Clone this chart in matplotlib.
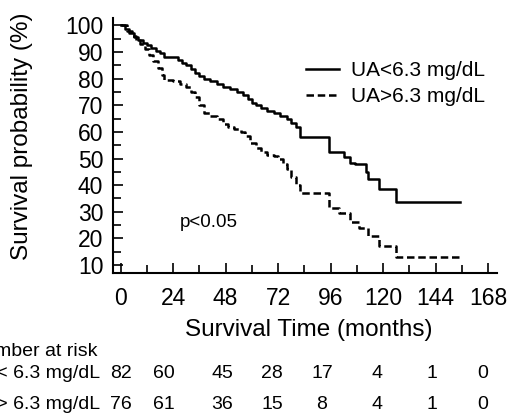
import matplotlib
matplotlib.use('Agg')
import matplotlib.pyplot as plt
import numpy as np

plt.rcParams['font.family'] = ['Liberation Sans', 'DejaVu Sans']

# Kaplan-Meier steps
t_low = [0, 2, 4, 6, 8, 10, 12, 14, 16, 18, 20, 26, 28, 30, 32, 34, 36, 38, 41, 44, 47, 50,
         53, 56, 58, 60, 62, 64, 67, 70, 73, 76, 78, 80, 82, 95, 102, 105, 107, 112, 113, 118, 126, 155]
s_low = [100, 98.5, 97, 95.5, 94.5, 93.5, 92.5, 91.5, 90.5, 89.5, 88, 87, 86, 85, 83.5, 82, 81, 80, 79, 78, 77, 76,
         75, 74, 72.5, 71, 70, 69, 68, 67, 66, 65, 63.5, 62, 58, 52.5, 50.5, 48.5, 48, 45, 42.5, 38.5, 33.5, 33.5]

t_high = [0, 3, 5, 7, 9, 11, 13, 15, 17, 19, 20, 24, 27, 30, 32, 34, 36, 38, 41, 44, 47, 49,
          52, 55, 57, 59, 62, 64, 67, 70, 72, 74, 76, 78, 80, 82, 95, 100, 105, 109, 113, 118, 126, 155]
s_high = [100, 98, 96, 94.5, 93, 91, 89, 86.5, 84, 81.5, 79.5, 79, 78, 77, 75, 73, 70, 67, 66, 65, 63, 62,
          61, 60, 58.5, 56, 54, 52.5, 51.5, 51, 50, 48, 46, 43, 40, 37, 31.5, 29.5, 26, 24, 21, 17, 13, 13]

labels = ['UA<6.3 mg/dL', 'UA>6.3 mg/dL']
xticks = [0, 24, 48, 72, 96, 120, 144, 168]

risk_rows = ['UA < 6.3 mg/dL', 'UA > 6.3 mg/dL']
risk_low = [82, 60, 45, 28, 17, 4, 1, 0]
risk_high = [76, 61, 36, 15, 8, 4, 1, 0]

W, H = 509, 415
fig = plt.figure(figsize=(W/100, H/100), dpi=100)
ax = fig.add_axes([113/W, 1-273/H, (497-113)/W, (273-18)/H])

ax.step(t_low, s_low, where='post', color='black', lw=1.8, label=labels[0])
ax.step(t_high, s_high, where='post', color='black', lw=1.8, linestyle=(0, (3, 1.5)), label=labels[1])

ax.set_xlim(-3.5, 172)
ax.set_ylim(7, 102.8)
ax.set_xticks(xticks)
ax.set_xticks(np.arange(0, 169, 12), minor=True)
ax.set_yticks(np.arange(10, 101, 10))
ax.set_yticks(np.arange(10, 101, 5), minor=True)
ax.tick_params(which='both', direction='in', labelsize=16.5, width=1.2, color='black')
ax.tick_params(which='major', length=7)
ax.tick_params(which='minor', length=6)
ax.tick_params(axis='x', pad=10)
ax.tick_params(axis='y', pad=7)
for s in ['top', 'right']:
    ax.spines[s].set_visible(False)
for s in ['left', 'bottom']:
    ax.spines[s].set_linewidth(1.5)

fig.text(22/W, 1-136/H, 'Survival probability (%)', rotation=90, ha='center', va='center', fontsize=17.5)
fig.text(309/W, 1-330/H, 'Survival Time (months)', ha='center', va='center', fontsize=17.5)

ax.text(0.174, 0.2, 'p<0.05', transform=ax.transAxes, fontsize=13.5, va='center', ha='left')

ax.legend(loc='upper left', bbox_to_anchor=(306/W, 1-61/H), bbox_transform=fig.transFigure,
          frameon=False, fontsize=15, handlelength=1.6, handletextpad=0.55, labelspacing=0.35,
          borderpad=0, borderaxespad=0)

# number at risk table
fs = 14
fig.text(97/W, 1-351/H, 'Number at risk', ha='right', va='center', fontsize=fs)
col_x = [121, 164, 222, 272, 322, 377, 432, 483]
for row_y, name, vals in [(374, risk_rows[0], risk_low), (404, risk_rows[1], risk_high)]:
    fig.text(100/W, 1-row_y/H, name, ha='right', va='center', fontsize=fs)
    for cx, v in zip(col_x, vals):
        fig.text(cx/W, 1-row_y/H, str(v), ha='center', va='center', fontsize=fs)

fig.savefig('out.png', dpi=100)
